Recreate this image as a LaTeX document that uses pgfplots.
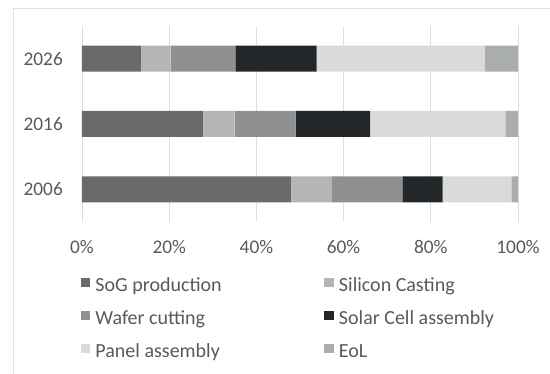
\documentclass[border=0pt]{standalone}
\usepackage{fontspec}
\setmainfont{Carlito}
\usepackage{pgfplots}
\pgfplotsset{compat=1.18}
\definecolor{sog}{HTML}{696A6C}
\definecolor{cast}{HTML}{B4B5B7}
\definecolor{wafer}{HTML}{8F9092}
\definecolor{cell}{HTML}{24272A}
\definecolor{panel}{HTML}{DADADA}
\definecolor{eol}{HTML}{ABAEAE}
\definecolor{txt}{HTML}{595959}
\begin{document}
\fontsize{19pt}{23pt}\selectfont
\begin{tikzpicture}
\useasboundingbox (0,0) rectangle (550pt,374pt);
\draw[color=black!12, line width=1pt] (13.5pt,0) -- (13.5pt,365pt) -- (550pt,365pt);
\begin{axis}[
  at={(82pt,152pt)}, anchor=south west,
  scale only axis, width=436pt, height=196pt,
  xbar stacked, bar width=26pt,
  xmin=0, xmax=100, ymin=-0.5, ymax=2.5,
  xtick={0,20,40,60,80,100},
  ytick={0,1,2}, yticklabels={2006,2016,2026},
  xticklabel={\pgfmathprintnumber{\tick}\%},
  /pgf/number format/assume math mode=true,
  xmajorgrids, major grid style={color=black!13, line width=0.9pt},
  axis line style={draw=none}, tick style={draw=none},
  every tick label/.append style={font=\fontsize{19.3pt}{23pt}\selectfont, text=txt},
  xticklabel style={inner sep=0pt, anchor=base, yshift=-32pt},
  yticklabel style={inner sep=0pt, anchor=east, xshift=-19pt},
  legend image code/.code={\fill[#1] (0pt,0pt) rectangle (9.5pt,9.5pt);},
  legend columns=2, legend cell align=left,
  legend style={at={(axis description cs:-0.0023,-0.2755)}, anchor=north west,
    draw=none, fill=none, inner sep=0pt, outer sep=0pt, row sep=10pt,
    font=\fontsize{20pt}{23pt}\selectfont,
    nodes={inner xsep=5pt, inner ysep=3pt, text height=13pt, text depth=4pt, text=txt}},
]
\addplot[fill=sog, draw=none] coordinates {(47.9,0) (27.7,1) (13.5,2)};
\addlegendentry{\makebox[224pt][l]{SoG production}}
\addplot[fill=cast, draw=none] coordinates {(9.4,0) (7.3,1) (6.8,2)};
\addlegendentry{Silicon Casting}
\addplot[fill=wafer, draw=none] coordinates {(16.2,0) (14.0,1) (14.9,2)};
\addlegendentry{\makebox[224pt][l]{Wafer cutting}}
\addplot[fill=cell, draw=none] coordinates {(9.2,0) (17.1,1) (18.6,2)};
\addlegendentry{Solar Cell assembly}
\addplot[fill=panel, draw=none] coordinates {(15.8,0) (31.0,1) (38.6,2)};
\addlegendentry{\makebox[224pt][l]{Panel assembly}}
\addplot[fill=eol, draw=none] coordinates {(1.5,0) (2.9,1) (7.6,2)};
\addlegendentry{EoL}
\end{axis}
\end{tikzpicture}
\end{document}
